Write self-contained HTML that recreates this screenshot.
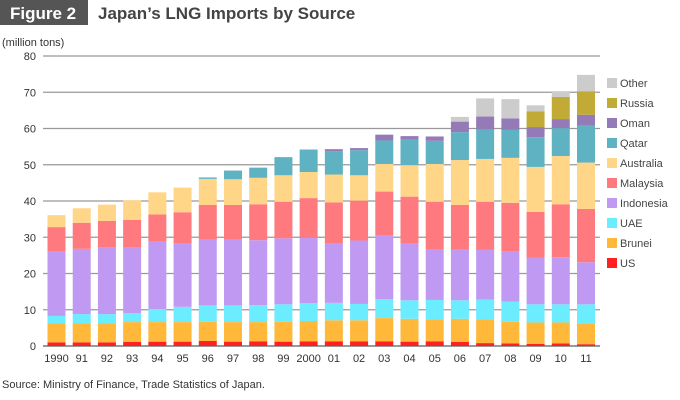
<!DOCTYPE html>
<html><head><meta charset="utf-8"><style>
body{margin:0;background:#fff;font-family:"Liberation Sans",Arial,sans-serif}
#wrap{position:relative;width:680px;height:400px;overflow:hidden}
</style></head><body>
<div id="wrap">
<svg id="chart" width="680" height="400" xmlns="http://www.w3.org/2000/svg">
<rect x="0" y="0" width="88" height="25" fill="#555"/>
<text x="10" y="19" font-size="17" font-weight="bold" fill="#fff">Figure 2</text>
<text x="98" y="19" font-size="17" font-weight="bold" fill="#444">Japan’s LNG Imports by Source</text>
<text x="2" y="46" font-size="11" fill="#333">(million tons)</text>
<text x="2" y="388" font-size="11" fill="#333">Source: Ministry of Finance, Trade Statistics of Japan.</text>
<g id="grid"></g><g id="bars"></g><g id="xlabels"></g><g id="legend"></g>
</svg></div>
<script>
const years=["1990","91","92","93","94","95","96","97","98","99","2000","01","02","03","04","05","06","07","08","09","10","11"];
const yTicks=[0,10,20,30,40,50,60,70,80];
const seriesNames=["US","Brunei","UAE","Indonesia","Malaysia","Australia","Qatar","Oman","Russia","Other"];
const seriesColors=["#ff2020","#ffb83a","#6cecff","#c09af2","#ff7a7e","#ffd588","#5fb2c2","#957ab8","#c2aa36","#cccccc"];
const us=[1.0,1.0,1.0,1.1,1.2,1.2,1.4,1.2,1.3,1.2,1.3,1.3,1.3,1.3,1.2,1.3,1.1,0.8,0.7,0.6,0.7,0.5];
const brunei=[5.2,5.2,5.2,5.5,5.4,5.4,5.3,5.4,5.3,5.5,5.6,5.8,5.8,6.4,6.3,6.0,6.4,6.5,6.0,5.9,5.8,5.8];
const uae=[2.1,2.6,2.6,2.5,3.6,4.2,4.5,4.6,4.7,4.8,4.9,4.8,4.5,5.2,5.1,5.4,5.1,5.5,5.5,5.0,5.0,5.2];
const indonesia=[17.7,18.0,18.5,18.0,18.6,17.5,18.2,18.2,17.9,18.2,18.0,16.4,17.5,17.5,15.6,13.9,14.0,13.7,14.0,12.8,13.0,11.6];
const malaysia=[6.8,7.2,7.2,7.7,7.5,8.6,9.5,9.5,9.9,10.1,11.0,11.3,11.0,12.2,13.0,13.2,12.3,13.3,13.3,12.7,14.6,14.7];
const australia=[3.3,4.0,4.5,5.4,6.1,6.8,7.2,7.1,7.3,7.3,7.2,7.7,7.0,7.6,8.7,10.4,12.4,11.8,12.4,12.4,13.3,12.8];
const qatar=[0,0,0,0,0,0,0.4,2.4,2.8,5.0,6.2,6.4,6.9,6.5,7.0,6.4,7.7,8.1,7.7,8.2,7.7,10.2];
const oman=[0,0,0,0,0,0,0,0,0,0,0,0.6,0.6,1.6,1.0,1.2,2.9,3.6,3.2,2.8,2.5,3.0];
const russia=[0,0,0,0,0,0,0,0,0,0,0,0,0,0,0,0,0,0,0,4.3,6.1,6.5];
const other=[0,0,0,0,0,0,0,0,0,0,0,0,0,0,0,0,1.3,5.0,5.3,1.7,1.6,4.5];
const series=[us,brunei,uae,indonesia,malaysia,australia,qatar,oman,russia,other];
const NS="http://www.w3.org/2000/svg";
const y0=346,yMax=80,plotH=290,xL=43,xR=600;
function yScale(v){return y0-v/yMax*plotH;}
function xCenter(i){return 56.5+i*(586-56.5)/(years.length-1);}
const barW=18;
function mk(tag,attrs,parent){const e=document.createElementNS(NS,tag);for(const k in attrs)e.setAttribute(k,attrs[k]);parent.appendChild(e);return e;}
const grid=document.getElementById('grid');
yTicks.forEach(t=>{
  const l=mk('line',{x1:xL,x2:xR,y1:yScale(t),y2:yScale(t),stroke:'#999','stroke-width':t===0?2:1.3},grid);
  
  
  const tx=mk('text',{x:36,y:yScale(t)+4,'font-size':11,fill:'#333','text-anchor':'end'},grid);
  tx.textContent=t;
  
  
});
const bars=document.getElementById('bars');
years.forEach((yr,i)=>{
  let cum=0;
  series.forEach((s,k)=>{
    const v=s[i];if(!v)return;
    const top=yScale(cum+v),bot=yScale(cum);
    const r=mk('rect',{x:xCenter(i)-barW/2,y:top,width:barW,height:bot-top,fill:seriesColors[k]},bars);
    
    
    cum+=v;
  });
  const tx=mk('text',{x:xCenter(i),y:362,'font-size':11,fill:'#333','text-anchor':'middle'},document.getElementById('xlabels'));
  tx.textContent=yr;
  
  
});
const leg=document.getElementById('legend');
for(let k=seriesNames.length-1;k>=0;k--){
  const row=seriesNames.length-1-k, cy=83+row*20;
  const g=mk('g',{},leg);
  
  
  mk('rect',{x:607,y:cy-5,width:10,height:10,fill:seriesColors[k]},g);
  const t=mk('text',{x:620,y:cy+4,'font-size':11,fill:'#444'},g);
  t.textContent=seriesNames[k];
}
</script>
</body></html>
